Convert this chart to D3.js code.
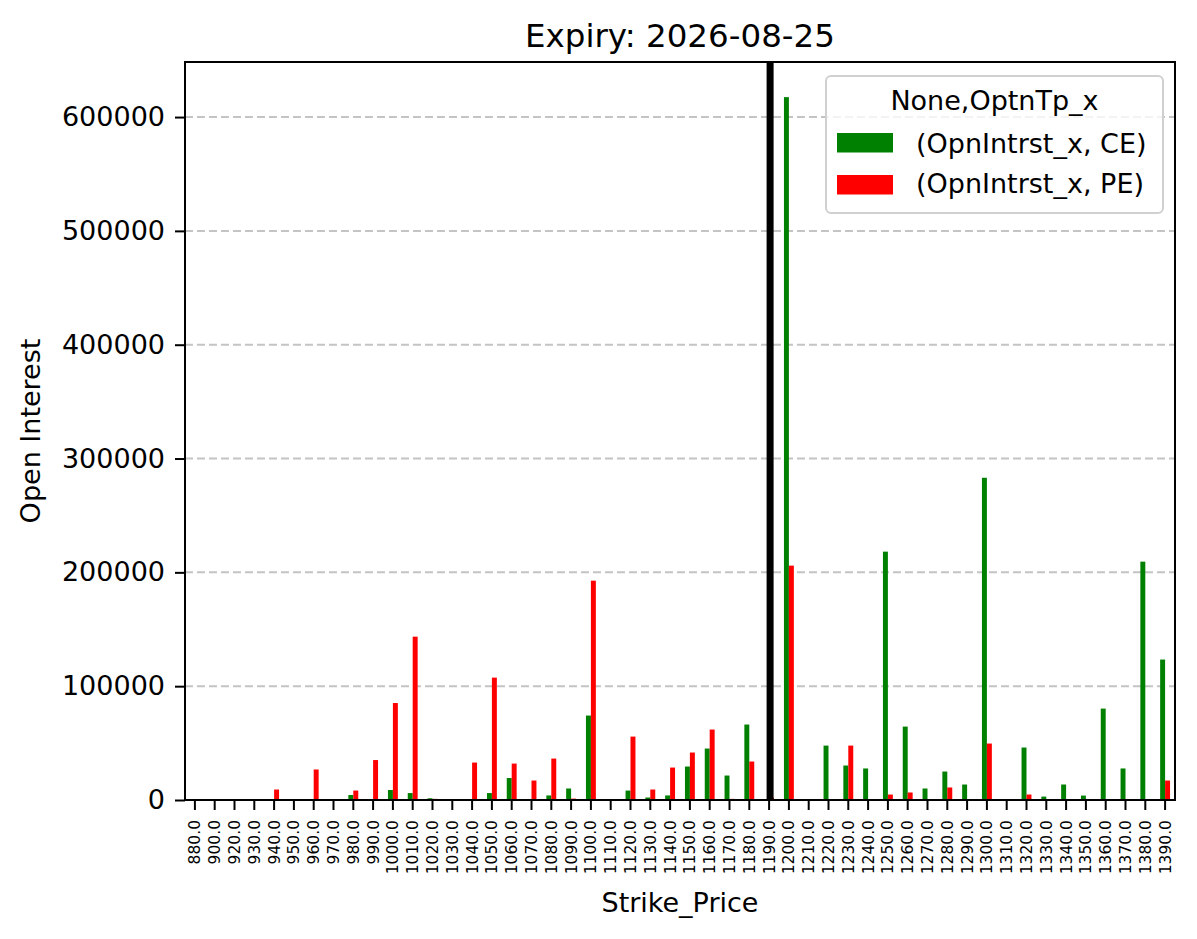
<!DOCTYPE html>
<html>
<head>
<meta charset="utf-8">
<script src="https://cdn.jsdelivr.net/npm/d3@7"></script>
<style>
  body { margin: 0; background: #fff; }
  text { font-family: "DejaVu Sans", sans-serif; fill: #000; }
</style>
</head>
<body>
<div id="chart"></div>
<script>
// strike prices (categories)
var strikes = [880, 900, 920, 930, 940, 950, 960, 970, 980, 990,
  1000, 1010, 1020, 1030, 1040, 1050, 1060, 1070, 1080, 1090,
  1100, 1110, 1120, 1130, 1140, 1150, 1160, 1170, 1180, 1190,
  1200, 1210, 1220, 1230, 1240, 1250, 1260, 1270, 1280, 1290,
  1300, 1310, 1320, 1330, 1340, 1350, 1360, 1370, 1380, 1390];

// open interest, calls
var ceOI = [0, 0, 0, 0, 0, 0, 0, 0, 4400, 0,
  8800, 6100, 1500, 0, 0, 6100, 19300, 0, 4000, 10100,
  74200, 0, 8300, 2200, 4000, 29400, 45200, 21500, 66300, 0,
  617500, 0, 47800, 30300, 27700, 218200, 64500, 10100, 25000, 13600,
  283100, 0, 46100, 3000, 13600, 3900, 80300, 27700, 209400, 123400];

// open interest, puts
var peOI = [0, 0, 0, 0, 9200, 0, 26800, 0, 8300, 35100,
  85200, 143500, 1000, 0, 32900, 107500, 32000, 17100, 36400, 1200,
  192700, 0, 55700, 9200, 28500, 41700, 61900, 1000, 33800, 2000,
  205900, 0, 0, 47800, 0, 4800, 6600, 0, 11000, 0,
  49600, 0, 4800, 0, 0, 0, 0, 0, 0, 17100];

var yTicks = [0, 100000, 200000, 300000, 400000, 500000, 600000];
var spotStrike = 1190;

var svgWidth = 1197;
var svgHeight = 939;
var margin = { top: 62, right: 22, bottom: 139, left: 185 };
var width = svgWidth - margin.left - margin.right;
var height = svgHeight - margin.top - margin.bottom;

var svg = d3.select("#chart").append("svg")
  .attr("width", svgWidth)
  .attr("height", svgHeight);

var g = svg.append("g")
  .attr("transform", `translate(${margin.left},${margin.top})`);

var x = d3.scaleBand()
  .domain(strikes)
  .range([0, width]);

var yMax = d3.max(ceOI.concat(peOI)) * 1.05;
var y = d3.scaleLinear()
  .domain([0, yMax])
  .range([height, 0]);

// grid
g.append("g")
  .selectAll("line")
  .data(yTicks)
  .enter().append("line")
  .attr("x1", 0).attr("x2", width)
  .attr("y1", d => y(d)).attr("y2", d => y(d))
  .attr("stroke", "#c4c4c4")
  .attr("stroke-width", 2)
  .attr("stroke-dasharray", "8,4");

// bars
var bw = x.bandwidth() * 0.25;
var series = [
  { vals: ceOI, color: "green", off: -bw },
  { vals: peOI, color: "red", off: 0 }
];
series.forEach(function(s) {
  g.append("g")
    .selectAll("rect")
    .data(strikes)
    .enter().append("rect")
    .attr("x", (d, i) => x(d) + x.bandwidth() / 2 + s.off)
    .attr("width", bw)
    .attr("y", (d, i) => y(s.vals[i]))
    .attr("height", (d, i) => height - y(s.vals[i]))
    .attr("fill", s.color);
});

// spot line
var sx = x(spotStrike) + x.bandwidth() / 2 + 1;
g.append("line")
  .attr("x1", sx).attr("x2", sx)
  .attr("y1", 0).attr("y2", height)
  .attr("stroke", "#000")
  .attr("stroke-width", 7);

// axes
var xAxis = g.append("g")
  .attr("transform", `translate(0,${height})`)
  .call(d3.axisBottom(x).tickSize(10).tickFormat(d => d.toFixed(1)));
xAxis.select(".domain").remove();
xAxis.selectAll("line").attr("stroke-width", 2);
xAxis.selectAll("text")
  .attr("font-size", "15.5px")
  .attr("transform", "rotate(-90)")
  .attr("text-anchor", "end")
  .attr("x", -20)
  .attr("y", 0)
  .attr("dy", "0.35em");

var yAxis = g.append("g")
  .call(d3.axisLeft(y).tickValues(yTicks).tickSize(10).tickPadding(10).tickFormat(d3.format("d")));
yAxis.select(".domain").remove();
yAxis.selectAll("line").attr("stroke-width", 2);
yAxis.selectAll("text").attr("font-size", "27px");

// frame
g.append("rect")
  .attr("width", width).attr("height", height)
  .attr("fill", "none")
  .attr("stroke", "#000")
  .attr("stroke-width", 2);

// title and labels
svg.append("text")
  .attr("x", margin.left + width / 2).attr("y", 47)
  .attr("text-anchor", "middle")
  .attr("font-size", "32.5px")
  .text("Expiry: 2026-08-25");

svg.append("text")
  .attr("x", margin.left + width / 2).attr("y", 912)
  .attr("text-anchor", "middle")
  .attr("font-size", "27px")
  .text("Strike_Price");

svg.append("text")
  .attr("transform", `translate(40,${margin.top + height / 2}) rotate(-90)`)
  .attr("text-anchor", "middle")
  .attr("font-size", "27px")
  .text("Open Interest");

// legend
var lg = svg.append("g").attr("transform", "translate(826,76)");
lg.append("rect")
  .attr("width", 337).attr("height", 137)
  .attr("rx", 5)
  .attr("fill", "#fff").attr("fill-opacity", 0.8)
  .attr("stroke", "#d0d0d0").attr("stroke-width", 2);
lg.append("text")
  .attr("x", 168.5).attr("y", 34)
  .attr("text-anchor", "middle")
  .attr("font-size", "27px")
  .text("None,OptnTp_x");
var legendItems = ["(OpnIntrst_x, CE)", "(OpnIntrst_x, PE)"];
legendItems.forEach(function(t, i) {
  lg.append("rect")
    .attr("x", 11).attr("y", 57 + i * 42)
    .attr("width", 56).attr("height", 19.5)
    .attr("fill", series[i].color);
  lg.append("text")
    .attr("x", 90).attr("y", 77 + i * 40)
    .attr("font-size", "27px")
    .text(t);
});
</script>
</body>
</html>
